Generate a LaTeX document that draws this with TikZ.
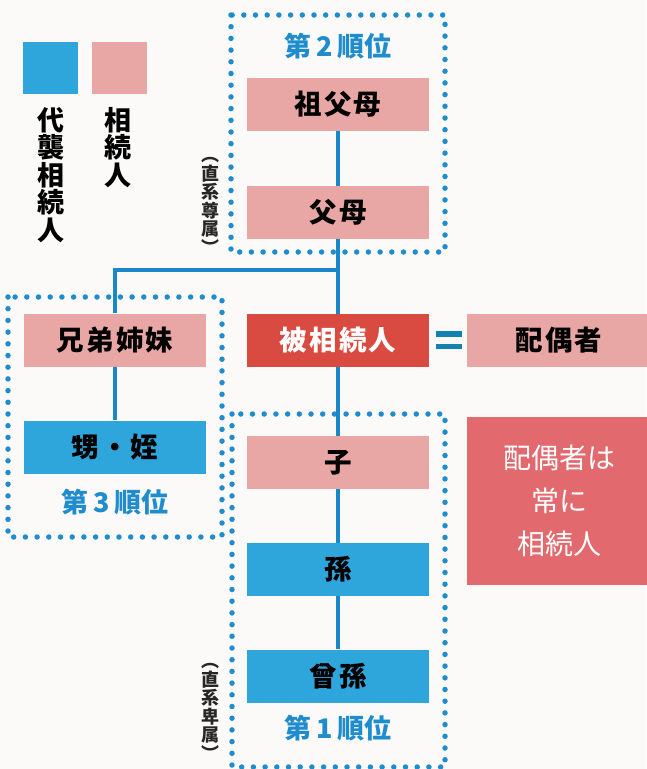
\documentclass[tikz,border=0pt]{standalone}
\usepackage{fontspec}
\setmainfont{Noto Sans CJK JP}
\definecolor{bgc}{RGB}{251,250,248}
\definecolor{pinkc}{RGB}{232,166,164}
\definecolor{bluec}{RGB}{46,166,220}
\definecolor{redc}{RGB}{217,74,64}
\definecolor{alwc}{RGB}{226,106,110}
\definecolor{dotc}{RGB}{30,140,205}
\definecolor{linec}{RGB}{25,135,200}
\definecolor{rankc}{RGB}{30,140,205}
\definecolor{eqc}{RGB}{20,130,175}
\tikzset{
  famibox/.style={rectangle, minimum width=182pt, minimum height=53pt, inner sep=0pt,
    font=\fontsize{27.5}{30}\selectfont\bfseries\addfontfeature{LetterSpace=8}},
  pinkbox/.style={famibox, fill=pinkc, text=black},
  bluebox/.style={famibox, fill=bluec, text=black},
  redbox/.style={famibox, fill=redc, text=white},
  ranklabel/.style={text=rankc, inner sep=0pt, font=\fontsize{27}{28}\selectfont\bfseries},
  dotbox/.style={draw=dotc, line width=5.5pt, dash pattern=on 0pt off 11.7pt, line cap=round},
  link/.style={draw=linec, line width=3.2pt},
  vlabel/.style={align=center, inner sep=0pt, font=\fontsize{18}{18.5}\selectfont\bfseries, text=black!85},
  legtext/.style={align=center, inner sep=0pt, font=\fontsize{27}{27.5}\selectfont\bfseries, text=black, anchor=north}
}
\begin{document}
\begin{tikzpicture}[x=1pt,y=-1pt]
\useasboundingbox (0,0) rectangle (646,769);
\fill[bgc] (0,0) rectangle (646,769);

% legend
\node[fill=bluec, minimum width=55pt, minimum height=52pt, inner sep=0pt] (legblue) at (50.5,68) {};
\node[fill=pinkc, minimum width=55pt, minimum height=52pt, inner sep=0pt] (legpink) at (119.5,68) {};
\node[legtext] (legbluet) at (51,107) {代\\襲\\相\\続\\人};
\node[legtext] (legpinkt) at (118,107) {相\\続\\人};

% dotted groups
\draw[dotbox] (231,15) rectangle (445,252);
\draw[dotbox] (8,297) rectangle (222,537);
\draw[dotbox] (232,414) rectangle (445,767);

% rank labels
\node[ranklabel] (g2) at (338,46) {第\,2\,順位};
\node[ranklabel] (g3) at (115,502) {第\,3\,順位};
\node[ranklabel] (g1) at (338,728) {第\,1\,順位};

% boxes
\node[pinkbox] (sofubo) at (338,104) {祖父母};
\node[pinkbox] (fubo) at (338,212.5) {父母};
\node[redbox] (hiso) at (338,340.5) {被相続人};
\node[pinkbox, minimum width=184pt] (haigu) at (559,340.5) {配偶者};
\node[pinkbox] (ko) at (338,462.5) {子};
\node[bluebox] (mago) at (338,569.5) {孫};
\node[bluebox] (himago) at (338,676) {曾孫};
\node[pinkbox] (kyodai) at (115,340) {兄弟姉妹};
\node[bluebox] (oimei) at (115,447) {甥・姪};
\node[fill=alwc, text=white, minimum width=184pt, minimum height=168pt, inner sep=0pt,
  align=center, font=\fontsize{28}{43}\selectfont] (always) at (559,501) {配偶者は\\常に\\相続人};

% equals sign
\fill[eqc] (436,331) rectangle (462,336.5);
\fill[eqc] (436,343.5) rectangle (462,349);

% vertical labels
\node[vlabel] (sonzoku) at (210,206) {︵\\直\\系\\尊\\属\\︶};
\node[vlabel] (hizoku) at (210,712) {︵\\直\\系\\卑\\属\\︶};

% connectors
\coordinate (junc) at (338,270);
\draw[link] (sofubo.south) -- (fubo.north);
\draw[link] (fubo.south) -- (hiso.north);
\draw[link] (junc) -- (kyodai.north |- junc) -- (kyodai.north);
\draw[link] (kyodai.south) -- (oimei.north);
\draw[link] (hiso.south) -- (ko.north);
\draw[link] (ko.south) -- (mago.north);
\draw[link] (mago.south) -- (himago.north);
\end{tikzpicture}
\end{document}
